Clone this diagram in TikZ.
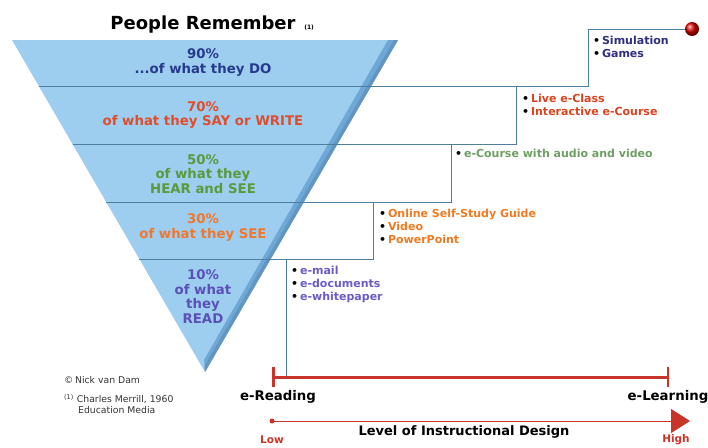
\documentclass[tikz,border=0pt]{standalone}
\usepackage{fontspec}
\setmainfont{DejaVu Sans}
\usepackage{xcolor}
\usetikzlibrary{positioning}
\usetikzlibrary{arrows.meta}

\definecolor{triblue}{RGB}{157,205,239}
\definecolor{bevelblue}{RGB}{110,168,215}
\definecolor{stairblue}{RGB}{79,127,159}
\definecolor{cdo}{RGB}{38,58,140}
\definecolor{csay}{RGB}{224,77,44}
\definecolor{chear}{RGB}{91,154,60}
\definecolor{csee}{RGB}{240,120,46}
\definecolor{cread}{RGB}{90,80,184}
\definecolor{csim}{RGB}{47,47,127}
\definecolor{clive}{RGB}{217,68,31}
\definecolor{ccourse}{RGB}{110,158,99}
\definecolor{conline}{RGB}{240,122,34}
\definecolor{cmail}{RGB}{106,92,196}
\definecolor{barred}{RGB}{200,52,42}

\begin{document}
\begin{tikzpicture}[x=1pt,y=-1pt]
    \tikzset{band/.style={font=\bfseries\fontsize{13.3}{14.5}\selectfont,align=center,inner sep=0pt}}
    \tikzset{item/.style={font=\bfseries\fontsize{11}{12.8}\selectfont,align=left,anchor=north west,inner sep=0pt}}
    \tikzset{stair/.style={draw=stairblue,line width=0.8pt}}
    \tikzset{axislabel/.style={font=\bfseries\fontsize{13.3}{15}\selectfont,inner sep=0pt}}
    \newcommand{\dotb}{{\color{black}\textbullet}\,}
    \useasboundingbox (0,0) rectangle (708,447);

    % triangle
    \coordinate (tl) at (12,40);
    \coordinate (tr) at (398,40);
    \coordinate (apex) at (205,372);
    \fill[triblue] (tl) -- (tr) -- (apex) -- cycle;
    \fill[bevelblue] (388,40) -- (tr) -- (apex) -- (204,360) -- cycle;
    \fill[bevelblue!80!black,opacity=0.5] (394,40) -- (tr) -- (apex) -- (204.5,366) -- cycle;

    % steps
    \coordinate (l1) at (38.7,86);
    \coordinate (l2) at (72.5,144);
    \coordinate (l3) at (106.2,202);
    \coordinate (l4) at (139.3,259);
    \coordinate (s1) at (588,86);
    \coordinate (s1t) at (588,29);
    \coordinate (s2) at (516,144);
    \coordinate (s2t) at (516,86);
    \coordinate (s3) at (451,202);
    \coordinate (s3t) at (451,144);
    \coordinate (s4) at (373,259);
    \coordinate (s4t) at (373,202);
    \coordinate (s5t) at (286,259);
    \coordinate (s5) at (286,377);
    \coordinate (ball) at (692,29);

    \draw[stair] (l1) -- (s1) -- (s1t) -- (ball);
    \draw[stair] (l2) -- (s2) -- (s2t);
    \draw[stair] (l3) -- (s3) -- (s3t);
    \draw[stair] (l4) -- (s4) -- (s4t);
    \draw[stair] (s5t) -- (s5);
    \shade[ball color=red!85!black] (ball) circle (7);

    % title
    \node[font=\bfseries\fontsize{18}{20}\selectfont] (title) at (203,25) {People Remember};
    \node[font=\bfseries\fontsize{6}{7}\selectfont,anchor=base west,inner sep=0pt] (note) at ([xshift=5pt]title.base east) {(1)};

    % bands
    \node[band,text=cdo] (b90) at (203,62.5) {90\%\\...of what they DO};
    \node[band,text=csay] (b70) at (203,115) {70\%\\of what they SAY or WRITE};
    \node[band,text=chear] (b50) at (203,174) {50\%\\of what they\\HEAR and SEE};
    \node[band,text=csee] (b30) at (203,227.5) {30\%\\of what they SEE};
    \node[band,text=cread] (b10) at (203,296.5) {10\%\\of what\\they\\READ};

    % media
    \node[item,text=csim] (sim) at (593,36) {\dotb Simulation\\\dotb Games};
    \node[item,text=clive] (live) at (522,94) {\dotb Live e-Class\\\dotb Interactive e-Course};
    \node[item,text=ccourse] (course) at (455,149) {\dotb e-Course with audio and video};
    \node[item,text=conline] (online) at (379,209) {\dotb Online Self-Study Guide\\\dotb Video\\\dotb PowerPoint};
    \node[item,text=cmail] (mail) at (291,266) {\dotb e-mail\\\dotb e-documents\\\dotb e-whitepaper};

    % axis
    \coordinate (barl) at (272,377);
    \coordinate (barr) at (669,377);
    \draw[barred,line width=3pt,{Bar[width=20pt,line width=2.5pt]}-{Bar[width=20pt,line width=2.5pt]}] (barl) -- (barr);
    \node[axislabel] (eread) at (278,397) {e-Reading};
    \node[axislabel] (elearn) at (668,397) {e-Learning};

    \coordinate (arl) at (272,421);
    \coordinate (arr) at (690,421);
    \fill[barred] (arl) circle (2.5);
    \draw[barred,line width=1pt,-{Triangle[length=19pt,width=24pt]}] (arl) -- (arr);
    \node[font=\bfseries\fontsize{13}{14}\selectfont,inner sep=0pt] (design) at (464,432) {Level of Instructional Design};
    \node[font=\bfseries\fontsize{10.5}{12}\selectfont,text=barred,inner sep=0pt] (low) at (272,440) {Low};
    \node[font=\bfseries\fontsize{10.5}{12}\selectfont,text=barred,inner sep=0pt] (high) at (676,440) {High};

    % credits
    \node[font=\fontsize{9.3}{10}\selectfont,anchor=west,inner sep=0pt,text=black!80] (credit) at (64,380) {\textcopyright\,Nick van Dam};
    \node[font=\fontsize{9.3}{10.5}\selectfont,anchor=north west,inner sep=0pt,text=black!80,align=left] (source) at (64,394) {\textsuperscript{(1)} Charles Merrill, 1960\\\hspace*{14pt}Education Media};
\end{tikzpicture}
\end{document}
